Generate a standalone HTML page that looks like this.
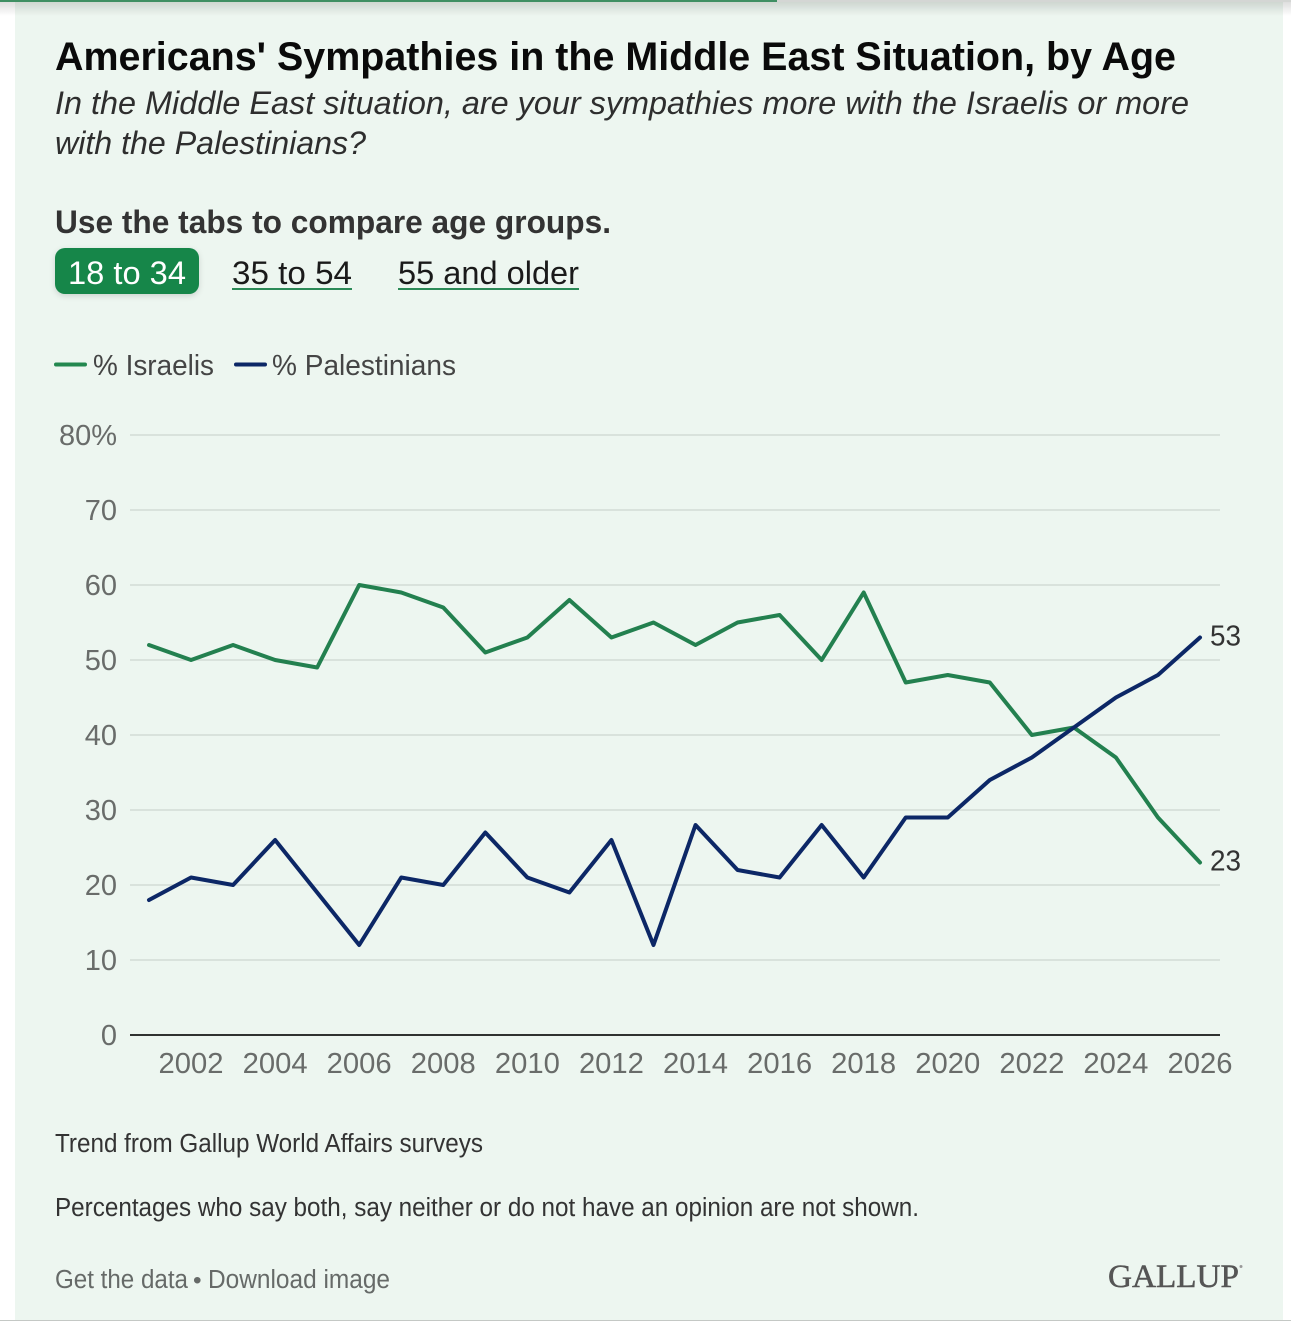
<!DOCTYPE html>
<html lang="en">
<head>
<meta charset="utf-8">
<title>Americans' Sympathies in the Middle East Situation, by Age</title>
<style>
html,body{margin:0;padding:0;background:#fff;}
body{width:1291px;height:1321px;overflow:hidden;position:relative;font-family:"Liberation Sans",sans-serif;}
svg{display:block;position:absolute;left:0;top:0;}
text{font-family:"Liberation Sans",sans-serif;}
</style>
</head>
<body>
<svg id="root" width="1291" height="1321" viewBox="0 0 1291 1321" xmlns="http://www.w3.org/2000/svg">
  <defs>
    <linearGradient id="topShade" x1="0" y1="0" x2="0" y2="1">
      <stop offset="0" stop-color="#000" stop-opacity="0.13"/>
      <stop offset="1" stop-color="#000" stop-opacity="0"/>
    </linearGradient>
    <filter id="tabShadow" x="-20%" y="-30%" width="140%" height="170%">
      <feDropShadow dx="0" dy="2" stdDeviation="3" flood-color="#000" flood-opacity="0.14"/>
    </filter>
  </defs>
  <rect x="15" y="0" width="1268" height="1320" fill="#edf6f0"/>
  <rect x="0" y="2" width="1291" height="14" fill="url(#topShade)"/>
  <rect x="0" y="0" width="1291" height="2" fill="#d4d6d4"/>
  <rect x="0" y="0" width="777" height="2" fill="#3f8f63"/>
  <rect x="0" y="1320" width="1291" height="1" fill="#c4c8c5"/>

  <text x="55" y="70" font-size="39.500" font-weight="700" fill="#0a0a0a" textLength="1121" lengthAdjust="spacingAndGlyphs">Americans' Sympathies in the Middle East Situation, by Age</text>
  <text x="55" y="114" font-size="32.500" font-style="italic" fill="#2e2e2e" textLength="1134" lengthAdjust="spacingAndGlyphs">In the Middle East situation, are your sympathies more with the Israelis or more</text>
  <text x="55" y="154" font-size="32.500" font-style="italic" fill="#2e2e2e" textLength="311" lengthAdjust="spacingAndGlyphs">with the Palestinians?</text>
  <text x="55" y="233" font-size="32" font-weight="700" fill="#333333" textLength="556" lengthAdjust="spacingAndGlyphs">Use the tabs to compare age groups.</text>

  <g>
    <rect x="55" y="248" width="144" height="46" rx="10" fill="#14864a" filter="url(#tabShadow)"/>
    <text x="68" y="284" font-size="32.500" fill="#ffffff" textLength="118" lengthAdjust="spacingAndGlyphs">18 to 34</text>
  </g>
  <g>
    <text x="232" y="284" font-size="32.500" fill="#1a1a1a" textLength="120" lengthAdjust="spacingAndGlyphs">35 to 54</text>
    <rect x="232" y="288" width="120" height="2" fill="#2b8a57"/>
  </g>
  <g>
    <text x="398" y="284" font-size="32.500" fill="#1a1a1a" textLength="181" lengthAdjust="spacingAndGlyphs">55 and older</text>
    <rect x="398" y="288" width="181" height="2" fill="#2b8a57"/>
  </g>

  <g>
    <line x1="56" y1="364.500" x2="85" y2="364.500" stroke="#23884f" stroke-width="4" stroke-linecap="round"/>
    <text x="93" y="375" font-size="29" fill="#454545" textLength="121" lengthAdjust="spacingAndGlyphs">% Israelis</text>
    <line x1="236" y1="364.500" x2="265" y2="364.500" stroke="#0c2766" stroke-width="4" stroke-linecap="round"/>
    <text x="272" y="375" font-size="29" fill="#454545" textLength="184" lengthAdjust="spacingAndGlyphs">% Palestinians</text>
  </g>

  <g id="grid"></g>
  <g id="yLabels"></g>
  <g id="xLabels"></g>
  <g id="lines"></g>
  <g id="endLabels"></g>

  <text x="55" y="1152" font-size="25.500" fill="#333333" textLength="428" lengthAdjust="spacingAndGlyphs">Trend from Gallup World Affairs surveys</text>
  <text x="55" y="1216" font-size="25.500" fill="#333333" textLength="864" lengthAdjust="spacingAndGlyphs">Percentages who say both, say neither or do not have an opinion are not shown.</text>
  <text x="55" y="1288" font-size="25.500" fill="#666a68" textLength="133" lengthAdjust="spacingAndGlyphs">Get the data</text>
  <text x="193" y="1288" font-size="24.500" fill="#666a68">•</text>
  <text x="208" y="1288" font-size="25.500" fill="#666a68" textLength="182" lengthAdjust="spacingAndGlyphs">Download image</text>
  <text x="1108" y="1287" font-size="32.500" fill="#555555" stroke="#555555" stroke-width="0.500" textLength="131" lengthAdjust="spacingAndGlyphs" style="font-family:'Liberation Serif',serif">GALLUP</text>
  <circle cx="1241" cy="1266.500" r="1.500" fill="#999999"/>
</svg>
<script>
const years = [2001,2002,2003,2004,2005,2006,2007,2008,2009,2010,2011,2012,2013,2014,2015,2016,2017,2018,2019,2020,2021,2022,2023,2024,2025,2026];
const israelis = [52,50,52,50,49,60,59,57,51,53,58,53,55,52,55,56,50,59,47,48,47,40,41,37,29,23];
const palestinians = [18,21,20,26,19,12,21,20,27,21,19,26,12,28,22,21,28,21,29,29,34,37,41,45,48,53];
const yTicks = [0,10,20,30,40,50,60,70,80];
const xTicks = [2002,2004,2006,2008,2010,2012,2014,2016,2018,2020,2022,2024,2026];

const SVG_NS = 'http://www.w3.org/2000/svg';
function xScale(year) {
  return 149 + (year - years[0]) * (1200 - 149) / (years[years.length - 1] - years[0]);
}
function yScale(value) {
  return 1035 - value * 7.5;
}
function make(tag, attrs, parent) {
  const el = document.createElementNS(SVG_NS, tag);
  for (const key in attrs) el.setAttribute(key, attrs[key]);
  parent.appendChild(el);
  return el;
}

const gridGroup = document.getElementById('grid');
const yLabelGroup = document.getElementById('yLabels');
const xLabelGroup = document.getElementById('xLabels');
const lineGroup = document.getElementById('lines');
const endGroup = document.getElementById('endLabels');

yTicks.forEach(function (tick) {
  const isBase = tick === 0;
  const rule = make('line', {
    x1: 130, x2: 1220, y1: yScale(tick), y2: yScale(tick),
    stroke: isBase ? '#2f3230' : '#d6dfd9',
    'stroke-width': isBase ? 2 : 1.8
  }, gridGroup);
  
  

  const label = make('text', {
    x: 117, y: yScale(tick) + 10, 'text-anchor': 'end',
    'font-size': 29, fill: '#696c6a'
  }, yLabelGroup);
  label.textContent = tick === 80 ? '80%' : String(tick);
  
  
});

xTicks.forEach(function (year) {
  const label = make('text', {
    x: xScale(year), y: 1073, 'text-anchor': 'middle',
    'font-size': 29, fill: '#696c6a', textLength: 65, lengthAdjust: 'spacingAndGlyphs'
  }, xLabelGroup);
  label.textContent = String(year);
  
  
});

function drawSeries(values, color, seriesName) {
  const points = values.map(function (v, i) {
    return xScale(years[i]).toFixed(2) + ',' + yScale(v).toFixed(2);
  }).join(' ');
  const line = make('polyline', {
    points: points, fill: 'none', stroke: color, 'stroke-width': 4,
    'stroke-linejoin': 'round', 'stroke-linecap': 'round'
  }, lineGroup);
  
  

  const last = values[values.length - 1];
  const label = make('text', {
    x: 1210, y: yScale(last) + 8, 'font-size': 29, fill: '#333333',
    textLength: 31, lengthAdjust: 'spacingAndGlyphs'
  }, endGroup);
  label.textContent = String(last);
  
  
}

drawSeries(israelis, '#23804f', 'israelis');
drawSeries(palestinians, '#0c2766', 'palestinians');
</script>
</body>
</html>
